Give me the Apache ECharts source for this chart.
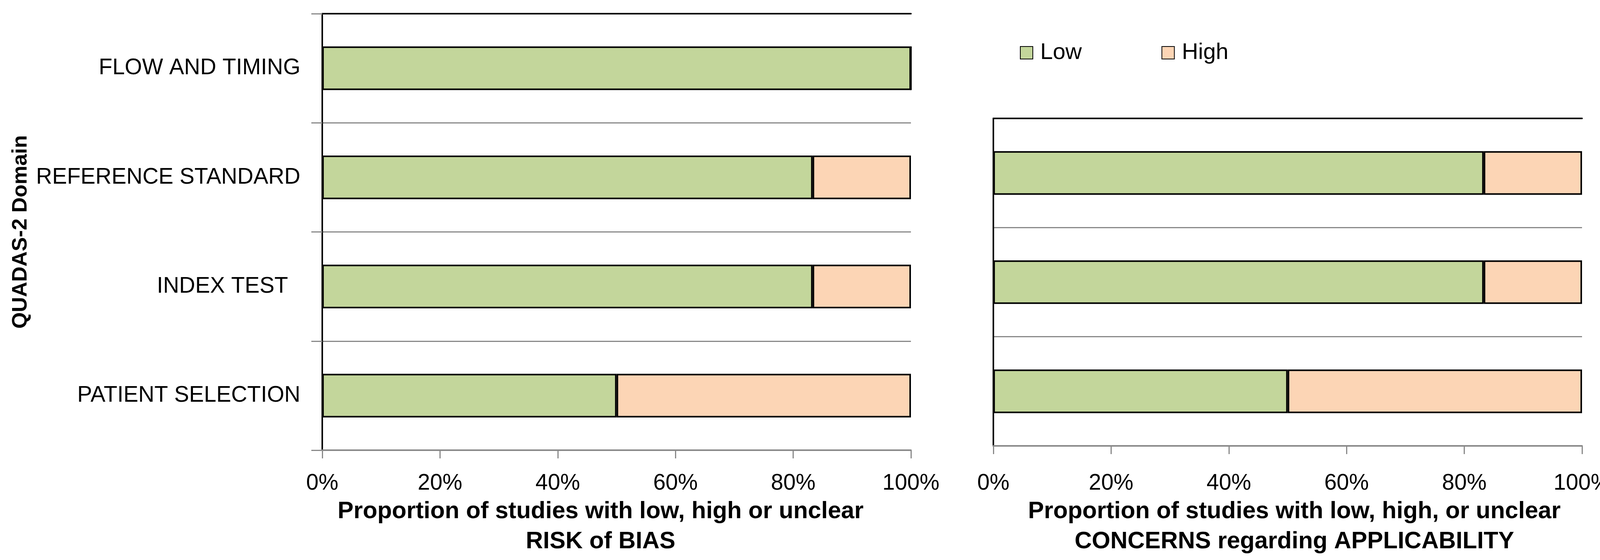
<!DOCTYPE html>
<html>
<head>
<meta charset="utf-8">
<script src="https://cdn.jsdelivr.net/npm/echarts@6/dist/echarts.min.js"></script>
<style>
html,body{margin:0;padding:0;background:#fff;}
#chart{width:4157px;height:1433px;}
</style>
</head>
<body>
<div id="chart"></div>
<script>
// ---- data ----
const domainsBias = ['PATIENT SELECTION', 'INDEX TEST  ', 'REFERENCE STANDARD', 'FLOW AND TIMING'];
const lowBias = [50, 83.3, 83.3, 100];
const highBias = [50, 16.7, 16.7, 0];

const domainsApplic = ['PATIENT SELECTION', 'INDEX TEST', 'REFERENCE STANDARD'];
const lowApplic = [50, 83.3, 83.3];
const highApplic = [50, 16.7, 16.7];

const seriesNames = ['Low', 'High'];
const xTickValues = [0, 20, 40, 60, 80, 100];
const yAxisTitle = 'QUADAS-2 Domain';
const xTitleBias = 'Proportion of studies with low, high or unclear\nRISK of BIAS';
const xTitleApplic = 'Proportion of studies with low, high, or unclear\nCONCERNS regarding APPLICABILITY';

// ---- styles ----
const FONT = "'Liberation Sans', Arial, sans-serif";
const GREEN = '#C3D69B';
const ORANGE = '#FCD5B5';
const GRAY = '#898989';
const colors = [GREEN, ORANGE];

const chart = echarts.init(document.getElementById('chart'), null, {renderer: 'canvas'});

function valueAxis(gridIndex, name, nameGap, labelMargin, namePadding) {
  return {
    type: 'value', gridIndex: gridIndex, min: xTickValues[0], max: xTickValues[xTickValues.length - 1],
    interval: xTickValues[1] - xTickValues[0],
    position: 'bottom',
    name: name, nameLocation: 'middle', nameGap: nameGap,
    nameTextStyle: {fontFamily: FONT, fontSize: 61, fontWeight: 'bold', color: '#000', lineHeight: 77, align: 'center', padding: namePadding},
    axisLine: {show: true, lineStyle: {color: GRAY, width: 4}},
    axisTick: {show: true, length: 21, lineStyle: {color: GRAY, width: 3}},
    axisLabel: {show: true, margin: labelMargin, fontFamily: FONT, fontSize: 57, color: '#000', formatter: '{value}%'},
    splitLine: {show: false},
    z: 3
  };
}
function topAxis(gridIndex) {
  return {
    type: 'value', gridIndex: gridIndex, position: 'top', min: xTickValues[0], max: xTickValues[xTickValues.length - 1],
    axisLine: {show: true, lineStyle: {color: '#000', width: 4}},
    axisTick: {show: false}, axisLabel: {show: false}, splitLine: {show: false}, z: 3
  };
}
function catAxis(gridIndex, data, showLabels, tickLen, name) {
  return {
    type: 'category', gridIndex: gridIndex, data: data, position: 'left',
    name: name || '', nameLocation: 'middle', nameGap: 745, nameRotate: 90,
    nameTextStyle: {fontFamily: FONT, fontSize: 54, fontWeight: 'bold', color: '#000'},
    axisLine: {show: true, lineStyle: {color: GRAY, width: 4}},
    axisTick: {show: tickLen > 0, length: tickLen, lineStyle: {color: GRAY, width: 3}},
    axisLabel: {show: showLabels, margin: 56, fontFamily: FONT, fontSize: 57, color: '#000'},
    splitLine: {show: true, lineStyle: {color: GRAY, width: 3}},
    z: 3
  };
}
function rightAxis(gridIndex, data) {
  return {
    type: 'category', gridIndex: gridIndex, data: data, position: 'right',
    axisLine: {show: true, lineStyle: {color: '#000', width: 4}},
    axisTick: {show: false}, axisLabel: {show: false}, splitLine: {show: false}, z: 3
  };
}
function barSeries(name, color, xi, yi, stack, data) {
  return {
    name: name, type: 'bar', stack: stack, xAxisIndex: xi, yAxisIndex: yi,
    barWidth: '40%', data: data,
    itemStyle: {color: color, borderColor: '#000', borderWidth: 4},
    emphasis: {disabled: true},
    animation: false
  };
}

const option = {
  backgroundColor: '#fff',
  animation: false,
  legend: {
    data: seriesNames, left: 2611, top: 103, padding: 0,
    icon: 'rect', itemWidth: 32, itemHeight: 32, itemGap: 204,
    textStyle: {fontFamily: FONT, fontSize: 58, color: '#000', padding: [0, 0, 0, 14], lineHeight: 64}
  },
  grid: [
    {left: 825, right: 4157 - 2332, top: 35, bottom: 1433 - 1152, containLabel: false},
    {left: 2543, right: 4157 - 4050, top: 303, bottom: 1433 - 1141, containLabel: false}
  ],
  xAxis: [
    valueAxis(0, xTitleBias, 113, 57, [0, 82, 0, 0]),
    valueAxis(1, xTitleApplic, 124, 68, [0, 0, 0, 34]),
    topAxis(0),
    topAxis(1)
  ],
  yAxis: [
    catAxis(0, domainsBias, true, 28, yAxisTitle),
    catAxis(1, domainsApplic, false, 0),
    rightAxis(0, domainsBias),
    rightAxis(1, domainsApplic)
  ],
  series: [
    barSeries(seriesNames[0], colors[0], 0, 0, 'bias', lowBias),
    barSeries(seriesNames[1], colors[1], 0, 0, 'bias', highBias),
    barSeries(seriesNames[0], colors[0], 1, 1, 'applic', lowApplic),
    barSeries(seriesNames[1], colors[1], 1, 1, 'applic', highApplic)
  ]
};
chart.setOption(option);
</script>
</body>
</html>
